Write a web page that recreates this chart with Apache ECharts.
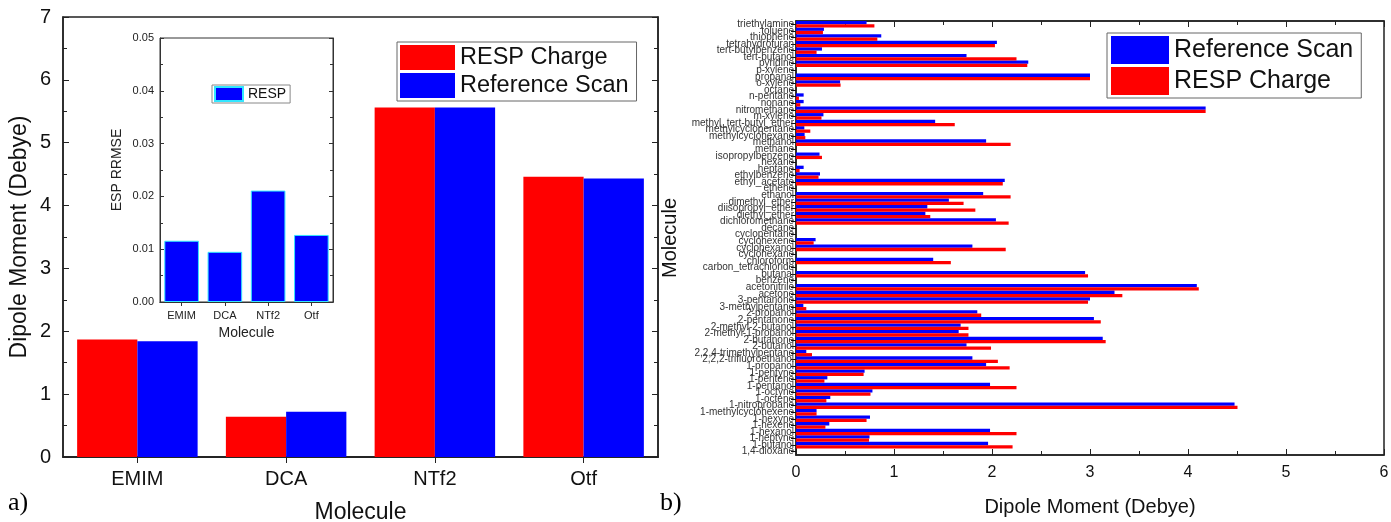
<!DOCTYPE html>
<html><head><meta charset="utf-8">
<script src="https://cdn.jsdelivr.net/npm/echarts@6/dist/echarts.min.js"></script>
<style>html,body{margin:0;padding:0;background:#fff}#c{width:1391px;height:522px}</style>
</head><body><div id="c"></div>
<script>
// Panel a) main
const ionCats = ['EMIM','DCA','NTf2','Otf'];
const ionResp = [1.87, 0.64, 5.56, 4.46];
const ionRef = [1.84, 0.72, 5.56, 4.43];
const yTicksA = [0,1,2,3,4,5,6,7];
// Panel a) inset
const insetResp = [0.0116, 0.0095, 0.0211, 0.0127];
// Panel b)
const molecules = ['1,4-dioxane','1-butanol','1-heptyne','1-hexanol','1-hexene','1-hexyne','1-methylcyclohexene','1-nitropropane','1-octene','1-octyne','1-pentanol','1-pentene','1-pentyne','1-propanol','2,2,2-trifluoroethanol','2,2,4-trimethylpentane','2-butanol','2-butanone','2-methyl-1-propanol','2-methyl-2-butanol','2-pentanone','2-propanol','3-methylpentane','3-pentanone','acetone','acetonitrile','benzene','butanal','carbon_tetrachloride','chloroform','cyclohexane','cyclohexanol','cyclohexene','cyclopentane','decane','dichloromethane','diethyl_ether','diisopropyl_ether','dimethyl_ether','ethanol','ethene','ethyl_acetate','ethylbenzene','heptane','hexane','isopropylbenzene','methane','methanol','methylcyclohexane','methylcyclopentane','methyl_tert-butyl_ether','m-xylene','nitromethane','nonane','n-pentane','octane','o-xylene','propanal','p-xylene','pyridine','tert-butanol','tert-butylbenzene','tetrahydrofuran','thiophene','toluene','triethylamine'];
const molRef = [0,1.96,0.75,1.98,0.34,0.755,0.21,4.475,0.35,0.78,1.98,0.32,0.70,1.94,1.80,0.105,1.74,3.13,1.66,1.68,3.04,1.85,0.075,3.00,3.25,4.09,0,2.95,0,1.40,0,1.80,0.20,0,0,2.04,1.32,1.34,1.56,1.91,0,2.13,0.245,0.078,0,0.24,0,1.94,0.088,0.085,1.42,0.28,4.18,0.078,0.078,0,0.45,3.00,0,2.37,1.74,0.265,2.05,0.87,0.285,0.72];
const molResp = [0,2.21,0.745,2.25,0.30,0.72,0.21,4.505,0.31,0.76,2.25,0.29,0.69,2.18,2.06,0.163,1.99,3.16,1.76,1.76,3.11,1.89,0.105,2.98,3.33,4.11,0,2.98,0,1.58,0,2.14,0.18,0,0,2.17,1.37,1.83,1.71,2.19,0,2.11,0.23,0.037,0,0.265,0,2.19,0.095,0.146,1.62,0.26,4.18,0.044,0.03,0,0.455,3.00,0,2.36,2.25,0.21,2.03,0.83,0.275,0.80];

const RED = '#ff0000', BLUE = '#0000ff';
const F = 'Liberation Sans, Arial, sans-serif';
const axisLine = {show:true, lineStyle:{color:'#222', width:1.5}};

const chart = echarts.init(document.getElementById('c'), null, {renderer:'canvas'});
chart.setOption({
  animation:false,
  backgroundColor:'#fff',
  textStyle:{fontFamily:F},
  grid:[
    {left:63, top:17, width:595, height:440, show:true, borderColor:'#222', borderWidth:1.5, outerBoundsMode:'none', containLabel:false},
    {left:160, top:38, width:173, height:264, show:true, borderColor:'#333', borderWidth:1, backgroundColor:'#fff', outerBoundsMode:'none', containLabel:false},
    {left:796, top:21, width:588, height:434, show:true, borderColor:'#222', borderWidth:1.5, outerBoundsMode:'none', containLabel:false}
  ],
  legend:[
    {data:['RESP Charge','Reference Scan'], left:397, top:42, orient:'vertical', icon:'rect',
     itemWidth:55, itemHeight:25, itemGap:3, padding:[3,8,3,3], borderColor:'#666', borderWidth:1,
     textStyle:{fontSize:23.5, color:'#111', fontFamily:F}},
    {data:['RESP'], left:212, top:85, icon:'rect', itemWidth:28, itemHeight:14, padding:[1,4,1,2],
     borderColor:'#888', borderWidth:1, textStyle:{fontSize:14, color:'#111', fontFamily:F}},
    {data:['Reference Scan','RESP Charge'], left:1107, top:33, orient:'vertical', icon:'rect',
     itemWidth:58, itemHeight:28, itemGap:3, padding:[3,8,3,4], borderColor:'#666', borderWidth:1,
     textStyle:{fontSize:25, color:'#111', fontFamily:F}}
  ],
  xAxis:[
    {gridIndex:0, type:'category', data:ionCats, axisLine:axisLine,
     axisTick:{show:false}, axisLabel:{fontSize:20, color:'#111', margin:12},
     name:'Molecule', nameLocation:'middle', nameGap:44, nameTextStyle:{fontSize:23, color:'#111'}},
    {gridIndex:0, type:'category', data:ionCats, position:'top', axisLine:axisLine,
     axisTick:{show:true, inside:true, alignWithLabel:true, length:6, lineStyle:{color:'#222'}},
     axisLabel:{show:false}},
    {gridIndex:1, type:'category', data:ionCats, axisLine:{show:true, lineStyle:{color:'#333'}},
     axisTick:{show:false}, axisLabel:{fontSize:11, color:'#222', margin:8},
     name:'Molecule', nameLocation:'middle', nameGap:24, nameTextStyle:{fontSize:14, color:'#222'}},
    {gridIndex:1, type:'category', data:ionCats, position:'top', axisLine:{show:true, lineStyle:{color:'#333'}},
     axisTick:{show:true, inside:true, alignWithLabel:true, length:4, lineStyle:{color:'#333'}},
     axisLabel:{show:false}},
    {gridIndex:2, type:'value', min:0, max:6, interval:1, axisLine:axisLine,
     axisTick:{show:true, inside:true, length:6, lineStyle:{color:'#222'}},
     minorTick:{show:true, splitNumber:2, length:4, lineStyle:{color:'#222'}},
     splitLine:{show:false}, axisLabel:{fontSize:16, color:'#111', margin:10},
     name:'Dipole Moment (Debye)', nameLocation:'middle', nameGap:42, nameTextStyle:{fontSize:20, color:'#111'}},
    {gridIndex:2, type:'value', min:0, max:6, interval:1, position:'top', axisLine:axisLine,
     axisTick:{show:true, inside:true, length:6, lineStyle:{color:'#222'}},
     minorTick:{show:true, splitNumber:2, length:4, lineStyle:{color:'#222'}},
     splitLine:{show:false}, axisLabel:{show:false}}
  ],
  yAxis:[
    {gridIndex:0, type:'value', min:0, max:7, interval:1, axisLine:axisLine,
     axisTick:{show:true, inside:true, length:6, lineStyle:{color:'#222'}},
     minorTick:{show:true, splitNumber:2, length:4, lineStyle:{color:'#222'}},
     splitLine:{show:false}, axisLabel:{fontSize:20, color:'#111', margin:12},
     name:'Dipole Moment (Debye)', nameLocation:'middle', nameGap:32, nameTextStyle:{fontSize:23, color:'#111'}},
    {gridIndex:0, type:'value', min:0, max:7, interval:1, position:'right', axisLine:axisLine,
     axisTick:{show:true, inside:true, length:6, lineStyle:{color:'#222'}},
     minorTick:{show:true, splitNumber:2, length:4, lineStyle:{color:'#222'}},
     splitLine:{show:false}, axisLabel:{show:false}},
    {gridIndex:1, type:'value', min:0, max:0.05, interval:0.01, axisLine:{show:true, lineStyle:{color:'#333'}},
     axisTick:{show:true, inside:true, length:4, lineStyle:{color:'#333'}},
     minorTick:{show:true, splitNumber:2, length:3, lineStyle:{color:'#333'}},
     splitLine:{show:false}, axisLabel:{fontSize:11, color:'#222', margin:6, formatter:v=>v.toFixed(2)},
     name:'ESP RRMSE', nameLocation:'middle', nameGap:36, nameTextStyle:{fontSize:14, color:'#222'}},
    {gridIndex:1, type:'value', min:0, max:0.05, interval:0.01, position:'right', axisLine:{show:true, lineStyle:{color:'#333'}},
     axisTick:{show:true, inside:true, length:4, lineStyle:{color:'#333'}},
     minorTick:{show:true, splitNumber:2, length:3, lineStyle:{color:'#333'}},
     splitLine:{show:false}, axisLabel:{show:false}},
    {gridIndex:2, type:'category', data:molecules, axisLine:axisLine,
     axisTick:{show:true, alignWithLabel:true, length:5, lineStyle:{color:'#111'}},
     axisLabel:{fontSize:10, color:'#333', margin:2, interval:0},
     name:'Molecule', nameLocation:'middle', nameGap:116, nameTextStyle:{fontSize:20, color:'#111'}}
  ],
  series:[
    {name:'RESP Charge', type:'bar', xAxisIndex:0, yAxisIndex:0, data:ionResp, itemStyle:{color:RED}, barGap:'0%', barCategoryGap:'19%'},
    {name:'Reference Scan', type:'bar', xAxisIndex:0, yAxisIndex:0, data:ionRef, itemStyle:{color:BLUE}, barGap:'0%', barCategoryGap:'19%'},
    {name:'RESP', type:'bar', xAxisIndex:2, yAxisIndex:2, data:insetResp, itemStyle:{color:BLUE, borderColor:'#33e6ff', borderWidth:1}, barCategoryGap:'20%'},
    {name:'Reference Scan', type:'bar', xAxisIndex:4, yAxisIndex:4, data:molRef, itemStyle:{color:BLUE}, barGap:'0%', barCategoryGap:'0%'},
    {name:'RESP Charge', type:'bar', xAxisIndex:4, yAxisIndex:4, data:molResp, itemStyle:{color:RED}, barGap:'0%', barCategoryGap:'0%'}
  ],
  graphic:[
    {type:'text', left:8, top:490, style:{text:'a)', font:'26px "Liberation Serif", serif', fill:'#000'}},
    {type:'text', left:660, top:490, style:{text:'b)', font:'26px "Liberation Serif", serif', fill:'#000'}}
  ]
});
</script></body></html>
